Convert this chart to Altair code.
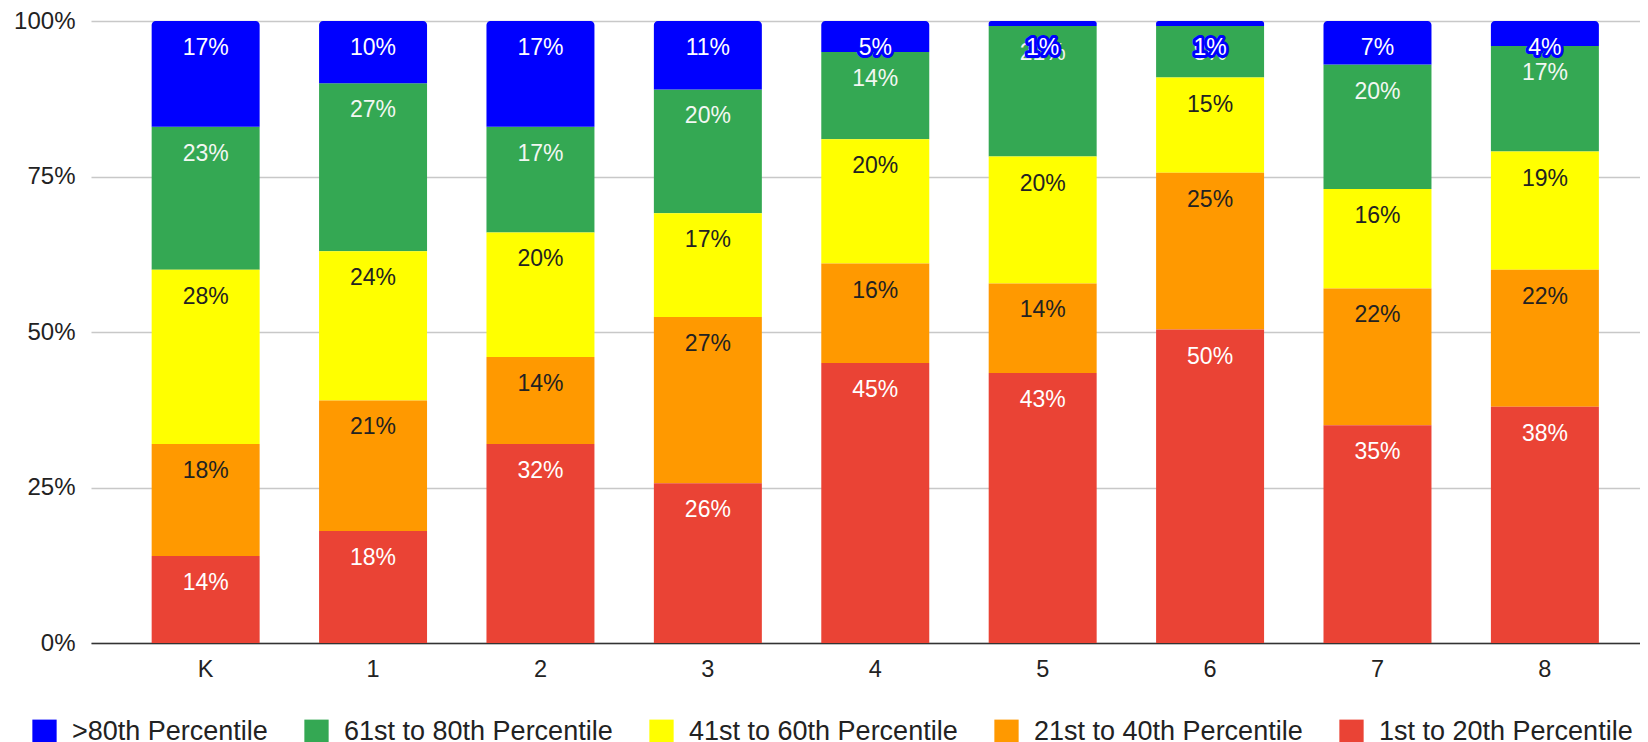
import altair as alt
import pandas as pd

grades = ["K", "1", "2", "3", "4", "5", "6", "7", "8"]
series = [
    ">80th Percentile",
    "61st to 80th Percentile",
    "41st to 60th Percentile",
    "21st to 40th Percentile",
    "1st to 20th Percentile",
]
colors = ["#0000ff", "#34a853", "#ffff00", "#ff9900", "#ea4335"]
label_colors = ["#ffffff", "#f2f7f2", "#222222", "#222222", "#ffffff"]

# values per series, per grade K..8
p80 = [17, 10, 17, 11.0, 5, 0.8, 0.8, 7, 4]
p61_80 = [23, 27, 17, 19.9, 14, 21.0, 8.3, 20, 17]
p41_60 = [28, 24, 20, 16.7, 20, 20.4, 15.3, 16, 19]
p21_40 = [18, 21, 14, 26.7, 16, 14.4, 25.2, 22, 22]
p1_20 = [14, 18, 32, 25.7, 45, 43.4, 50.4, 35, 38]

values_by_series = [p80, p61_80, p41_60, p21_40, p1_20]

rows = []
for si, (s, vals) in enumerate(zip(series, values_by_series)):
    for g, v in zip(grades, vals):
        rows.append({
            "grade": g,
            "series": s,
            "value": v,
            "ord": len(series) - si,   # red at the bottom of the stack
            "tc": label_colors[si],
        })
df = pd.DataFrame(rows)

FONT = "Liberation Sans, Arial, sans-serif"
BLUE = series[0]

base = (
    alt.Chart(df)
    .transform_stack(
        stack="value",
        groupby=["grade"],
        sort=[alt.SortField("ord", order="ascending")],
        as_=["y0", "y1"],
    )
    .transform_calculate(label="format(datum.value, '.0f') + '%'")
)

x_enc = alt.X(
    "grade:N",
    sort=grades,
    scale=alt.Scale(paddingInner=0.355, paddingOuter=0.304, align=0.596),
    axis=alt.Axis(
        title=None, labelAngle=0, ticks=False, grid=False,
        domainColor="#333333", domainWidth=1.5,
        labelFontSize=23.5, labelColor="#222222", labelPadding=14,
    ),
)
y_enc = alt.Y(
    "y0:Q",
    scale=alt.Scale(domain=[0, 100], nice=False),
    axis=alt.Axis(
        title=None, values=[0, 25, 50, 75, 100],
        labelExpr="datum.value + '%'",
        ticks=False, domain=False,
        gridColor="#c8c8c8", gridWidth=1.5,
        labelFontSize=24, labelColor="#222222", labelPadding=16,
    ),
)
color_enc = alt.Color(
    "series:N",
    scale=alt.Scale(domain=series, range=colors),
    legend=alt.Legend(
        title=None, orient="none", legendX=-60, legendY=697,
        direction="horizontal", columns=5,
        symbolType="square", symbolSize=590, symbolStrokeWidth=0,
        labelFontSize=27, labelColor="#222222", labelOffset=14,
        columnPadding=35, labelLimit=0,
    ),
)

bars_other = base.transform_filter(alt.datum.series != BLUE).mark_bar().encode(
    x=x_enc, y=y_enc, y2="y1:Q", color=color_enc
)
bars_blue = base.transform_filter(alt.datum.series == BLUE).mark_bar(
    cornerRadiusTopLeft=4, cornerRadiusTopRight=4
).encode(x=x_enc, y=y_enc, y2="y1:Q", color=color_enc)

text_other = base.transform_filter(alt.datum.series != BLUE).mark_text(
    fontSize=23, baseline="middle", dy=27, font=FONT
).encode(
    x=alt.X("grade:N", sort=grades),
    y=alt.Y("y1:Q"),
    text="label:N",
    fill=alt.Fill("tc:N", scale=None),
)
text_blue_halo = base.transform_filter(alt.datum.series == BLUE).mark_text(
    fontSize=23, baseline="middle", dy=27, font=FONT,
    stroke="#0000ff", strokeWidth=6, strokeJoin="round", fill="#0000ff",
).encode(
    x=alt.X("grade:N", sort=grades),
    y=alt.Y("y1:Q"),
    text="label:N",
)
text_blue = base.transform_filter(alt.datum.series == BLUE).mark_text(
    fontSize=23, baseline="middle", dy=27, font=FONT
).encode(
    x=alt.X("grade:N", sort=grades),
    y=alt.Y("y1:Q"),
    text="label:N",
    fill=alt.Fill("tc:N", scale=None),
)

chart = (
    alt.layer(bars_other, bars_blue, text_other, text_blue_halo, text_blue)
    .properties(
        width=1549,
        height=622,
        autosize=alt.AutoSizeParams(type="none"),
        padding={"left": 83, "top": 13, "right": 0, "bottom": 99},
    )
    .configure(font=FONT)
    .configure_view(stroke=None)
)

chart.save("out.html", embed_options={"renderer": "svg", "actions": False})
